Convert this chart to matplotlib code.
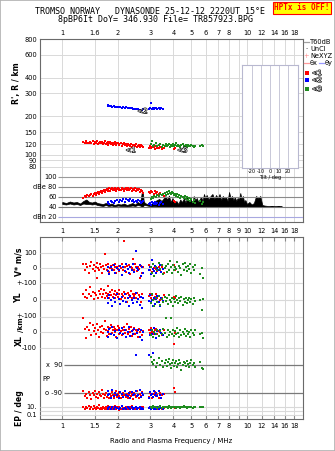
import matplotlib
matplotlib.use('Agg')
import matplotlib.pyplot as plt
import matplotlib.patheffects as pe
from matplotlib.lines import Line2D
from matplotlib.patches import Rectangle
from matplotlib.ticker import FixedLocator, NullLocator
from matplotlib.transforms import blended_transform_factory, ScaledTranslation

W, H = 335, 451

# ---- echo class <1 (red) : freq MHz, R' km, amp dB, V* m/s, YL km, XL km, PP deg, EP deg
red_f = [1.30, 1.33, 1.35, 1.37, 1.40, 1.42, 1.44, 1.46, 1.48, 1.50,
         1.52, 1.54, 1.56, 1.58, 1.60, 1.62, 1.64, 1.66, 1.68, 1.70,
         1.72, 1.74, 1.76, 1.78, 1.80, 1.82, 1.84, 1.86, 1.88, 1.90,
         1.92, 1.94, 1.96, 1.98, 2.00, 2.02, 2.04, 2.07, 2.10, 2.13,
         2.16, 2.19, 2.22, 2.25, 2.28, 2.31, 2.34, 2.37, 2.40, 2.43,
         2.46, 2.49, 2.52, 2.55, 2.58, 2.61, 2.64, 2.67, 2.70, 2.73,
         2.96, 3.00, 3.04, 3.08, 3.12, 3.17, 3.22, 3.27, 3.33, 3.40,
         3.47, 3.55, 4.02, 4.08]
red_r = [125, 123, 127, 124, 122, 126, 124, 128, 121, 125,
         123, 127, 120, 124, 126, 122, 125, 121, 124, 127,
         120, 123, 125, 119, 122, 126, 121, 124, 118, 123,
         121, 125, 119, 122, 124, 118, 121, 123, 117, 120,
         122, 118, 121, 116, 120, 119, 117, 121, 115, 119,
         118, 116, 120, 115, 117, 119, 114, 118, 116, 115,
         113, 116, 112, 115, 114, 111, 116, 113, 112, 114,
         111, 113, 110, 112]
red_amp = [58, 62, 60, 64, 61, 63, 66, 62, 65, 68,
           64, 67, 70, 66, 69, 72, 68, 71, 74, 70,
           73, 75, 71, 74, 77, 72, 75, 78, 73, 76,
           74, 77, 72, 75, 78, 74, 76, 73, 77, 75,
           72, 76, 78, 74, 77, 73, 75, 78, 72, 76,
           74, 77, 71, 75, 73, 76, 70, 74, 72, 68,
           70, 67, 72, 69, 66, 71, 68, 70, 65, 67,
           64, 62, 52, 50]
red_v = [30, -10, 25, 5, -35, 15, 40, -5, 20, -20,
         10, 35, 0, -15, 25, 5, -30, 15, -5, 93,
         20, -10, 10, 30, -25, 0, 15, -5, 20, -15,
         5, 25, -35, 10, -5, 15, -20, 0, 30, -10,
         180, 5, -25, 15, -5, 20, -40, 10, 0, 60,
         -15, 25, 5, -20, 10, -5, -67, 15, -30, 5,
         20, -10, 10, -25, 0, 15, -5, -20, 10, -15,
         5, -30, 20, -10]
red_yl = [40, 20, 60, 10, 35, 80, 25, 50, 5, 45,
          30, 140, 15, 55, 35, 70, 20, 40, 60, 10,
          45, 25, 90, 35, 15, 50, 30, 65, 20, 40,
          10, 55, 30, 45, 20, 60, 35, 5, 40, 25,
          50, 15, 35, -10, 45, 30, 20, 55, 10, 40,
          25, 35, 15, 45, 5, 30, 20, -15, 35, 10,
          25, 40, 15, 30, 5, 20, 35, 10, 25, 0,
          15, 30, 20, 10]
red_xl = [93, 20, -40, 35, 10, 60, -20, 45, 5, 25,
          -10, 50, 15, -30, 30, 0, 40, -5, 20, 70,
          10, -25, 35, 5, -15, 25, 45, -5, 15, 30,
          0, 20, -35, 10, 40, -10, 25, 5, -20, 15,
          30, -5, 10, 50, -15, 20, 0, 35, -25, 10,
          25, -10, 15, 5, -30, 20, 0, 10, -20, 5,
          15, -5, 25, 0, -15, 10, 20, -10, 5, 0,
          -20, 10, -80, -5]
red_pp = [-75, -110, -95, -120, -85, -100, -130, -90, -105, -80,
          -115, -95, -125, -85, -100, -110, -70, -95, -120, -105,
          -90, -115, -80, -100, -125, -95, -110, -85, -105, -120,
          -90, -100, -75, -115, -95, -110, -85, -125, -100, -90,
          -105, -80, -115, -95, -120, -100, -85, -110, -95, -130,
          -90, -105, -115, -80, -100, -120, -95, -110, -85, -100,
          -115, -90, -105, -120, -95, -85, -110, -100, -125, -90,
          -105, -95, -60, -85]
red_ep = [8, 3, 12, 5, 20, 4, 9, 2.5, 15, 6,
          3, 10, 5, 25, 4, 7, 3, 12, 6, 2.5,
          9, 4, 18, 5, 3, 11, 6, 2.5, 8, 4,
          14, 5, 3, 9, 6, 2, 10, 4, 22, 5,
          3, 7, 12, 4, 6, 2.5, 9, 5, 16, 3,
          6, 4, 10, 3, 7, 5, 2.5, 8, 4, 12,
          5, 8, 3, 6, 10, 4, 7, 3, 5, 9,
          4, 6, 10, 5]

# ---- echo class <2 (blue)
blue_f = [1.76, 1.78, 1.80, 1.83, 1.86, 1.90, 1.94, 1.98, 2.02, 2.06,
          2.10, 2.14, 2.18, 2.22, 2.26, 2.30, 2.34, 2.38, 2.42, 2.46,
          2.50, 2.54, 2.58, 2.62, 2.66, 2.70, 2.74, 2.94, 2.98, 3.02,
          3.06, 3.10, 3.14, 3.18, 3.22, 3.27, 3.32, 3.38, 3.44, 3.50]
blue_r = [240, 243, 238, 241, 236, 239, 235, 237, 234, 236,
          233, 235, 232, 234, 231, 233, 230, 232, 229, 227,
          228, 225, 226, 223, 224, 222, 225, 228, 230, 252,
          229, 231, 228, 230, 232, 229, 231, 228, 230, 229]
blue_amp = [48, 50, 46, 52, 49, 47, 51, 53, 50, 54,
            52, 55, 50, 56, 53, 51, 55, 52, 54, 50,
            52, 49, 53, 51, 48, 50, 52, 46, 48, 44,
            50, 47, 45, 49, 46, 48, 44, 47, 49, 46]
blue_v = [-20, 10, -40, 5, -15, 20, -30, 0, -10, 15,
          -45, 5, -20, 25, -5, -35, 10, -15, 30, -25,
          113, 0, -10, 20, -50, 5, -30, -15, 10, -40,
          53, -5, -20, 15, -30, 0, -10, 20, -25, -5]
blue_yl = [10, -20, 30, 0, -35, 15, -10, 40, 5, -25,
           20, -5, 35, -15, 10, -40, 25, 0, -20, 15,
           45, -10, 5, -30, 20, -50, 10, -5, 30, -15,
           0, -40, 15, -25, 5, 25, -10, -35, 10, -5]
blue_xl = [0, -30, 20, -10, 35, -20, 5, -40, 15, -5,
           25, -15, 10, -35, 0, 30, -25, 5, -10, 20,
           -147, -5, 15, -30, 10, -50, 0, -147, -20, 15,
           -10, -133, 25, -15, -40, 5, -25, 10, -5, -20]
blue_pp = [-80, -105, -95, -120, -70, -110, -90, -100, -125, -85,
           -95, -115, -75, -100, -110, -90, -120, -85, -105, -95,
           -80, -110, -100, -70, -115, -90, -105, -125, -85, -100,
           -95, -115, -75, -105, -90, -110, -80, -100, -120, -95]
blue_ep = [6, 3, 10, 4, 8, 2.5, 12, 5, 3, 7,
           15, 4, 6, 3, 9, 5, 2.5, 11, 4, 6,
           8, 3, 5, 12, 4, 7, 3, 6, 10, 4,
           5, 8, 3, 6, 2.5, 9, 4, 7, 5, 3]

# ---- echo class <3 (green)
green_f = [3.02, 3.06, 3.10, 3.14, 3.20, 3.26, 3.32, 3.38, 3.45, 3.52,
           3.58, 3.64, 3.70, 3.75, 3.80, 3.85, 3.90, 3.95, 4.00, 4.05,
           4.10, 4.15, 4.20, 4.25, 4.30, 4.36, 4.42, 4.48, 4.54, 4.60,
           4.66, 4.72, 4.78, 4.85, 4.92, 5.00, 5.08, 5.16, 5.25, 5.60, 5.68, 5.75]
green_r = [120, 128, 117, 119, 122, 116, 118, 121, 115, 119,
           117, 120, 116, 118, 121, 115, 119, 117, 120, 116,
           118, 122, 116, 119, 117, 115, 118, 120, 116, 117,
           119, 115, 118, 116, 117, 118, 116, 115, 117, 116, 118, 117]
green_amp = [56, 60, 58, 62, 60, 64, 62, 66, 63, 65,
             68, 64, 70, 66, 72, 68, 65, 70, 67, 64,
             66, 62, 65, 60, 63, 58, 62, 60, 57, 61,
             56, 59, 54, 57, 52, 55, 50, 53, 48, 52, 46, 50]
green_v = [10, -30, 25, -50, 5, -15, 35, -5, 20, -40,
           0, 15, -25, 30, -10, 45, 5, -35, 20, -15,
           10, -5, 40, -25, 15, 0, -45, 25, -10, 35,
           5, -20, 15, -5, 30, -30, 10, -15, 20, -40, 0, -67]
green_yl = [-20, 40, 0, -40, 15, -10, 25, -30, 5, -15,
            20, -5, 10, -25, 30, 0, -10, 15, -35, 5,
            -15, 25, 0, -20, 10, -5, 20, -30, 5, -10,
            15, -20, 0, 10, -15, 5, -25, 10, -5, 0, -62, 5]
green_xl = [-20, 10, -35, 0, -10, 15, -25, 5, -15, 20,
            -5, 93, -30, 10, -20, 0, 93, -10, 15, -25,
            5, -15, 25, -5, -30, 10, -20, 0, -10, 20,
            -25, 5, -15, 0, -35, 10, -5, -20, 15, -10, -5, -40]
green_pp = [140, 110, 95, 125, 80, 105, 135, 90, 115, 75,
            100, 120, 85, 110, 130, 95, 70, 105, 120, 85,
            100, 115, 80, 95, 125, 105, 60, 90, 110, 100,
            85, 115, 95, 75, 105, 120, 90, 100, 80, 110, 70, 65]
green_ep = [10, 6, 14, 8, 12, 7, 10, 15, 6, 9,
            12, 8, 11, 6, 14, 9, 7, 12, 10, 8,
            13, 6, 10, 9, 12, 7, 11, 8, 14, 9,
            10, 7, 12, 8, 11, 9, 6, 10, 13, 8, 12, 10]

# ---- receiver noise trace (dB), lower / upper envelope
noise_f = [1.00, 1.05, 1.10, 1.15, 1.20, 1.25, 1.30, 1.35, 1.40, 1.45,
           1.50, 1.55, 1.60, 1.66, 1.72, 1.78, 1.85, 1.92, 2.00, 2.08,
           2.16, 2.24, 2.32, 2.40, 2.48, 2.56, 2.64, 2.70, 2.73, 2.76,
           2.80, 2.88, 2.96, 3.05, 3.15, 3.25, 3.35, 3.45, 3.55, 3.62,
           3.70, 3.78, 3.86, 3.95, 4.05, 4.15, 4.25, 4.35, 4.45, 4.55,
           4.65, 4.75, 4.85, 4.95, 5.05, 5.15, 5.25, 5.35, 5.45, 5.55,
           5.65, 5.75, 5.85, 5.95, 6.05, 6.20, 6.35, 6.50, 6.65, 6.80,
           6.95, 7.10, 7.25, 7.40, 7.55, 7.70, 7.85, 8.00, 8.15, 8.30,
           8.45, 8.60, 8.75, 8.90, 9.05, 9.20, 9.35, 9.50, 9.65, 9.80,
           10.0, 10.3, 10.6, 10.9, 11.2, 11.5, 11.8, 12.1, 12.4, 13.0,
           13.6, 14.2, 14.8, 15.4]
noise_hi = [50, 48, 51, 49, 50, 47, 52, 55, 50, 49,
            51, 48, 47, 46, 48, 45, 47, 44, 46, 45,
            47, 44, 46, 48, 45, 50, 47, 72, 70, 52,
            48, 46, 45, 47, 50, 54, 56, 52, 58, 62,
            55, 63, 50, 58, 48, 52, 46, 55, 50, 57,
            49, 60, 52, 57, 47, 62, 54, 58, 50, 56,
            60, 52, 66, 58, 64, 55, 62, 66, 56, 64,
            58, 66, 54, 62, 57, 60, 52, 70, 58, 62,
            54, 60, 52, 58, 55, 68, 56, 62, 50, 54,
            46, 50, 45, 48, 62, 58, 62, 44, 43, 42,
            42, 42, 42, 42]
noise_lo = [46, 45, 47, 45, 46, 44, 47, 46, 46, 45,
            46, 44, 43, 42, 44, 42, 43, 41, 43, 42,
            42, 41, 42, 43, 42, 44, 43, 40, 40, 44,
            44, 43, 42, 41, 42, 41, 40, 40, 40, 40,
            40, 41, 40, 40, 41, 40, 40, 41, 40, 40,
            41, 40, 40, 41, 40, 40, 41, 40, 40, 41,
            40, 40, 41, 40, 40, 41, 40, 40, 41, 40,
            40, 41, 40, 40, 41, 40, 40, 41, 40, 40,
            41, 40, 40, 41, 40, 40, 41, 40, 40, 41,
            40, 41, 40, 40, 41, 40, 40, 41, 40, 40,
            41, 40, 41, 40]

freq_ticks = [1, 1.5, 2, 3, 4, 5, 6, 7, 8, 9, 10, 12, 14, 16, 18]
top_labels = ['1', '1.6', '2', '3', '4', '5', '6', '7', '8', '', '10', '12', '14', '16', '18']
mid_labels = ['1', '1.5', '2', '3', '4', '5', '6', '7', '8', '9', '10', '12', '14', '16', '18']
bot_labels = ['1', '1.5', '2', '3', '4', '5', '6', '7', '8', '', '10', '12', '14', '16', '18']
r_ticks = [80, 90, 100, 120, 150, 200, 300, 400, 600, 800]

echoes = [
    (red_f, red_r, red_amp, red_v, red_yl, red_xl, red_pp, red_ep, '#ff0000'),
    (blue_f, blue_r, blue_amp, blue_v, blue_yl, blue_xl, blue_pp, blue_ep, '#0000ff'),
    (green_f, green_r, green_amp, green_v, green_yl, green_xl, green_pp, green_ep, '#1f8c1f'),
]

FMIN, FMAX = 0.758, 20.1
FL, FR = 40, 303
TOP0, TOP1 = 39, 222
LOW0, LOW1 = 237, 419
GRID = '#d9d9d9'
FRAME = '#6a6a6a'
FS = 4.8
MS = 2.1

plt.rcParams['font.family'] = 'DejaVu Sans'
fig = plt.figure(figsize=(W / 100, H / 100), dpi=100)
fig.patches.append(Rectangle((0, 0), 1, 1, transform=fig.transFigure,
                             fill=False, edgecolor='#b0b0b0', lw=1.2))
halo = [pe.withStroke(linewidth=0.8, foreground='black')]


def px(x, y):
    return x / W, 1 - y / H


def axes_px(x0, y0, x1, y1):
    return fig.add_axes([x0 / W, 1 - y1 / H, (x1 - x0) / W, (y1 - y0) / H])


def overlay(y0, y1):
    a = axes_px(FL, y0, FR, y1)
    a.patch.set_visible(False)
    a.set_xscale('log')
    a.set_xlim(FMIN, FMAX)
    a.axis('off')
    return a


def band_lim(zero_px, px_per_unit, y0=LOW0, y1=LOW1):
    # linear band: value 0 sits at zero_px, scale in pixels per unit
    return (zero_px - y1) / px_per_unit, (zero_px - y0) / px_per_unit


def left_text(ax, val, s, x=-0.012, ha='right'):
    tr = blended_transform_factory(ax.transAxes, ax.transData)
    ax.text(x, val, s, transform=tr, ha=ha, va='center', fontsize=FS, clip_on=False)


def freq_axis(ax, labels, top=False, bottom=False):
    ax.set_xscale('log')
    ax.set_xlim(FMIN, FMAX)
    ax.xaxis.set_major_locator(FixedLocator(freq_ticks))
    ax.xaxis.set_minor_locator(NullLocator())
    ax.set_xticklabels(labels)
    ax.tick_params(axis='x', top=top, bottom=bottom, labeltop=False, labelbottom=bottom,
                   direction='in', length=3, color='#888888', labelsize=FS, pad=3)
    for s in ax.spines.values():
        s.set_color(FRAME)
        s.set_linewidth(0.8)


# ---------------- upper panel: virtual range ----------------
ax_r = axes_px(FL, TOP0, FR, TOP1)
freq_axis(ax_r, top_labels)
ax_r.tick_params(axis='x', labeltop=True, length=0, pad=2)
ax_r.set_yscale('log')
ax_r.set_ylim(29.7, 800)
ax_r.yaxis.set_major_locator(FixedLocator(r_ticks))
ax_r.yaxis.set_minor_locator(NullLocator())
ax_r.set_yticklabels([str(t) for t in r_ticks])
ax_r.tick_params(axis='y', length=0, labelsize=FS, pad=2)
ax_r.grid(color=GRID, lw=0.7)
ax_r.set_axisbelow(True)
for f, r, *_rest, c in echoes:
    ax_r.plot(f, r, 's', color=c, ms=MS, mew=0)

for f, r, s in [(2.35, 108, '<1'), (2.72, 218, '<2'), (4.47, 108, '<3')]:
    ax_r.text(f, r, s, fontsize=5, color='white', ha='center', va='center',
              path_effects=halo)

# amplitude strip drawn into the bottom of the upper panel
ax_a = overlay(TOP0, TOP1)
ax_a.set_ylim(10, 376)
for lvl, col in [(100, '#9a9a9a'), (80, '#8a8a8a'), (60, '#8a8a8a'), (40, '#777777'), (20, '#a8a8e0')]:
    ax_a.hlines(lvl, 0.95, FMAX, color=col, lw=0.8)
for lvl, s in [(100, '100'), (80, 'dBe 80'), (60, '60'), (40, '40'), (20, 'dBn 20')]:
    ax_a.text(0.935, lvl, s, ha='right', va='center', fontsize=FS)
ax_a.fill_between(noise_f, noise_lo, noise_hi, color='black', lw=0.5, edgecolor='black')
for f, r, amp, *_rest, c in echoes:
    ax_a.plot(f, amp, 's', color=c, ms=MS, mew=0)

# tilt box
ax_t = axes_px(242, 65, 298, 168)
ax_t.set_xlim(-31, 31)
ax_t.set_ylim(0, 1)
ax_t.set_xticks([-20, -10, 0, 10, 20])
ax_t.set_xticklabels(['-20', '-10', '0', '10', '20'])
ax_t.set_yticks([])
ax_t.tick_params(axis='x', length=0, labelsize=3.6, pad=1)
ax_t.grid(axis='x', color='#c8c8d8', lw=0.7)
ax_t.set_xlabel('Tilt / deg', fontsize=3.6, labelpad=0.3)
for s in ax_t.spines.values():
    s.set_color('#b8b8d0')
    s.set_linewidth(0.8)

# ---------------- lower panel: velocity, location, polarization ----------------
ax_l = axes_px(FL, LOW0, FR, LOW1)
freq_axis(ax_l, bot_labels, top=True, bottom=True)
ax_l.set_ylim(0, 1)
ax_l.set_yticks([])
ax_l.grid(axis='x', color=GRID, lw=0.7)
ax_l.set_xlabel('Radio and Plasma Frequency / MHz', fontsize=FS + 0.2, labelpad=6)

# frequency labels between the two panels
mid_tr = blended_transform_factory(ax_l.transData, ax_l.transAxes) + \
    ScaledTranslation(0, 3 / 100, fig.dpi_scale_trans)
for t, lab in zip(freq_ticks, mid_labels):
    ax_l.text(t, 1.0, lab, transform=mid_tr, ha='center', va='bottom', fontsize=FS)

ax_v = overlay(LOW0, LOW1)
ax_v.set_ylim(*band_lim(268, 0.15))
ax_y = overlay(LOW0, LOW1)
ax_y.set_ylim(*band_lim(300, 0.16))
ax_x = overlay(LOW0, LOW1)
ax_x.set_ylim(*band_lim(332, 0.155))
ax_p = overlay(LOW0, LOW1)
ax_p.set_ylim(*band_lim(379, 28 / 180))
ax_e = overlay(LOW0, LOW1)
ax_e.set_yscale('log')
ax_e.set_ylim(1e-2, 10 ** 43.5)

for a, lvls in [(ax_v, [100, 0, -100]), (ax_y, [0]), (ax_x, [100, 0, -100]), (ax_e, [10, 1, 0.1])]:
    for v in lvls:
        a.hlines(v, FMIN, FMAX, color=GRID, lw=0.8)
ax_p.hlines([90, -90], 1.02, FMAX, color='#7a7a7a', lw=0.9)

left_text(ax_v, 100, '100')
left_text(ax_v, 0, '0')
left_text(ax_v, -100, '+-100')
left_text(ax_y, 0, '0')
left_text(ax_y, -100, '+-100')
left_text(ax_x, 0, '0')
left_text(ax_x, -100, '-100')
left_text(ax_p, 90, 'x  90', x=0.085)
left_text(ax_p, 0, 'PP', x=0.01, ha='left')
left_text(ax_p, -90, 'o -90', x=0.085)
left_text(ax_e, 10, '10.')
left_text(ax_e, 0.1, '0.1')

for f, r, amp, v, yl, xl, pp, ep, c in echoes:
    ax_v.plot(f, v, 's', color=c, ms=MS, mew=0)
    ax_y.plot(f, yl, 's', color=c, ms=MS, mew=0)
    ax_x.plot(f, xl, 's', color=c, ms=MS, mew=0)
    ax_p.plot(f, pp, 's', color=c, ms=MS, mew=0)
    ax_e.plot(f, ep, 's', color=c, ms=MS, mew=0)

# rotated axis names
for x, y, s, size in [(16, 83, "R', R / km", 5.6), (19, 262, 'V* m/s', 5.6), (19, 298, 'YL', 5.6),
                      (21, 325, '/km', 5.0), (19, 341, 'XL', 5.6), (19, 408, 'EP / deg', 5.6)]:
    fig.text(*px(x, y), s, rotation=90, ha='center', va='center', fontsize=size, weight='bold')

# header
fig.text(*px(150, 12), 'TROMSO NORWAY   DYNASONDE 25-12-12 2220UT 15\u00b0E',
         family='DejaVu Sans Mono', fontsize=6, ha='center', va='center')
fig.text(*px(156, 20), '8pBP6It DoY= 346.930 File= TR857923.BPG',
         family='DejaVu Sans Mono', fontsize=6, ha='center', va='center')
fig.text(*px(302, 8), 'HPTx is OFF!', family='DejaVu Sans Mono', fontsize=5.5,
         weight='bold', color='#ff0000', ha='center', va='center',
         bbox=dict(facecolor='#ffff00', edgecolor='#ff0000', pad=1.2, lw=0.8))


# key on the right
def key_line(x0, x1, y, col):
    fig.add_artist(Line2D([x0 / W, x1 / W], [1 - y / H, 1 - y / H], color=col, lw=0.9,
                          transform=fig.transFigure))


key_line(304, 309, 42, '#a0a0a0')
fig.text(*px(310, 42), 'T60dB', fontsize=FS, va='center')
fig.text(*px(306, 49), '\u00b7', fontsize=FS, va='center', ha='center')
fig.text(*px(310, 49), 'UnCl', fontsize=FS, va='center')
fig.text(*px(306, 56), '+', fontsize=FS, va='center', ha='center', color='#ff8888')
fig.text(*px(310, 56), 'NeXYZ', fontsize=FS, va='center')
key_line(304, 309, 63, '#ff9999')
fig.text(*px(310, 63), '\u03b8x', fontsize=FS, va='center')
key_line(319, 324, 63, '#9999ff')
fig.text(*px(325, 63), '\u03b8y', fontsize=FS, va='center')
for y, c, s in [(73, '#ff0000', '<1'), (80, '#0000ff', '<2'), (89, '#1f8c1f', '<3')]:
    fig.add_artist(Line2D([307 / W], [1 - y / H], marker='s', ms=2.2, mew=0, color=c,
                          transform=fig.transFigure))
    fig.text(*px(312, y), s, fontsize=4.8, va='center', color='white', path_effects=halo)

fig.savefig('out.png', dpi=100)
